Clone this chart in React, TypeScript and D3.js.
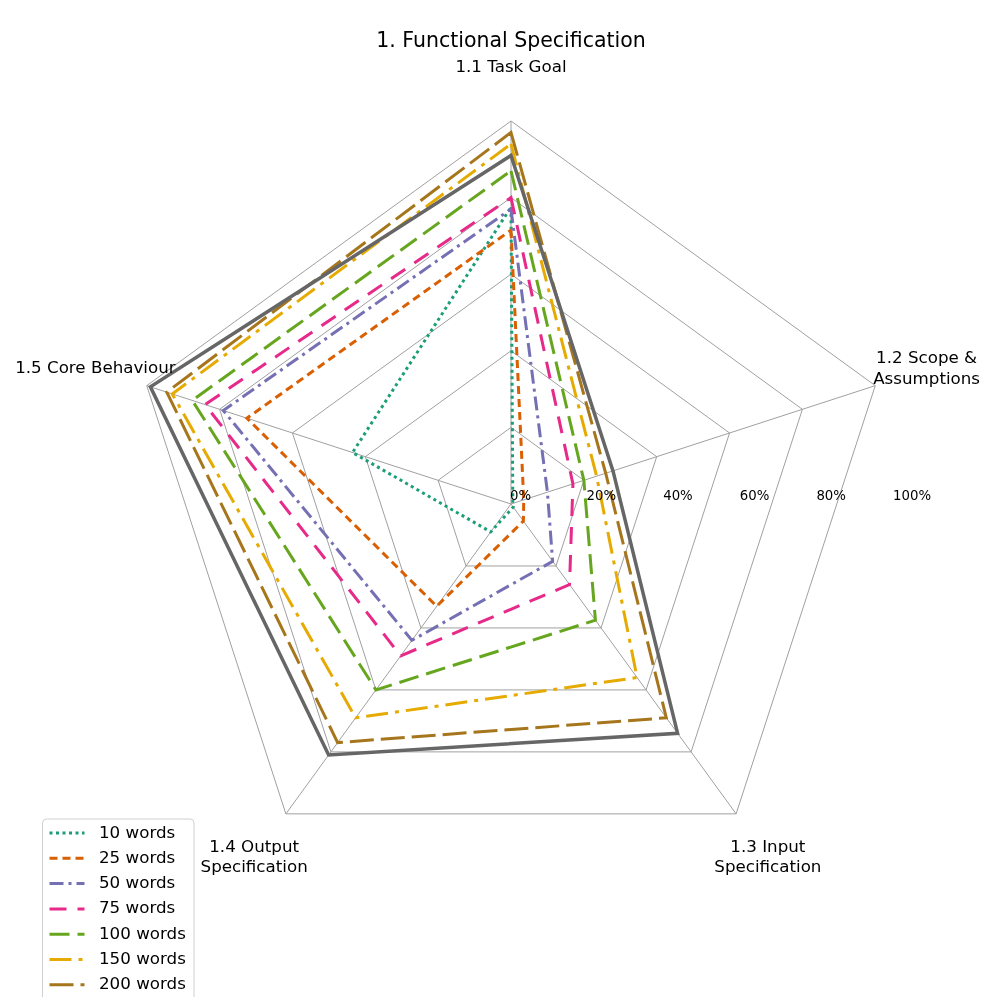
import React, { useRef, useEffect } from 'react';
import * as d3 from 'd3';

// axes, clockwise from the top
const axes = [
  ['1.1 Task Goal'],
  ['1.2 Scope &', 'Assumptions'],
  ['1.3 Input', 'Specification'],
  ['1.4 Output', 'Specification'],
  ['1.5 Core Behaviour'],
];

const seriesNames = ['10 words', '25 words', '50 words', '75 words', '100 words', '150 words', '200 words'];

// percentage per axis (Task Goal, Scope, Input, Output, Core)
const words10 = [77.5, 0.5, 1, 9, 43.5];
const words25 = [71.5, 3.5, 5.5, 33, 72.5];
const words50 = [77, 10, 18.5, 44, 79];
const words75 = [80, 17, 26, 49, 84];
const words100 = [87, 20, 37.5, 60, 87.5];
const words150 = [94, 23.5, 56, 69, 93];
const words200 = [97, 26, 69, 77, 94.5];
// grey series, its legend entry falls below the picture
const wordsMax = [91, 28, 74, 81, 99];

const gridTicks = [0, 20, 40, 60, 80, 100];

const colors = ['#1b9e77', '#d95f02', '#7570b3', '#e7298a', '#66a61e', '#e6ab02', '#a6761d', '#666666'];
const dashes = ['3,3.5', '8,5', '14,5,3,5', '17,11', '20,8', '22,7,4,7', '24,7', null];

export default function App() {
  const svgRef = useRef<SVGSVGElement>(null);

  useEffect(() => {
    const w = 997;
    const h = 997;
    const cx = 511;
    const cy = 504;
    const R = 383;
    const font = 'DejaVu Sans, sans-serif';

    const data = [words10, words25, words50, words75, words100, words150, words200, wordsMax];

    const svg = d3.select(svgRef.current).attr('width', w).attr('height', h);
    svg.selectAll('*').remove();

    const rScale = d3.scaleLinear().domain([0, 100]).range([0, R]);
    const angle = d3.scaleLinear().domain([0, axes.length]).range([0, 2 * Math.PI]);

    const g = svg.append('g').attr('transform', `translate(${cx},${cy})`);

    // grid pentagons
    const gridLine = d3.lineRadial<number>()
      .angle((d, i) => angle(i))
      .radius(d => rScale(d))
      .curve(d3.curveLinearClosed);

    g.selectAll('.grid')
      .data(gridTicks.slice(1))
      .join('path')
      .attr('d', t => gridLine(axes.map(() => t)))
      .attr('fill', 'none')
      .attr('stroke', '#a0a0a0')
      .attr('stroke-width', 1);

    // spokes
    g.selectAll('.spoke')
      .data(axes)
      .join('line')
      .attr('x1', 0)
      .attr('y1', 0)
      .attr('x2', (d, i) => rScale(100) * Math.sin(angle(i)))
      .attr('y2', (d, i) => -rScale(100) * Math.cos(angle(i)))
      .attr('stroke', '#a0a0a0')
      .attr('stroke-width', 1);

    // series
    const line = d3.lineRadial<number>()
      .angle((d, i) => angle(i))
      .radius(d => rScale(d))
      .curve(d3.curveLinearClosed);

    g.selectAll('.series')
      .data(data)
      .join('path')
      .attr('d', d => line(d))
      .attr('fill', 'none')
      .attr('stroke', (d, i) => colors[i])
      .attr('stroke-width', (d, i) => (i === 7 ? 3.5 : 3))
      .attr('stroke-dasharray', (d, i) => dashes[i])
      .attr('stroke-linejoin', 'miter');

    // radial tick labels
    g.selectAll('.rlabel')
      .data(gridTicks)
      .join('text')
      .attr('x', t => rScale(t) - 1)
      .attr('y', -8)
      .attr('dominant-baseline', 'middle')
      .attr('font-family', font)
      .attr('font-size', 13.3)
      .text(t => `${t}%`);

    // axis labels
    const labelR = 437;
    const labels = g.selectAll('.alabel')
      .data(axes)
      .join('text')
      .attr('font-family', font)
      .attr('font-size', 16.7)
      .attr('text-anchor', 'middle')
      .attr('transform', (d, i) =>
        `translate(${labelR * Math.sin(angle(i))},${-labelR * Math.cos(angle(i))})`);

    labels.selectAll('tspan')
      .data(d => d.map((txt, j) => ({ txt, j, n: d.length })))
      .join('tspan')
      .attr('x', 0)
      .attr('y', d => (d.j - (d.n - 1) / 2) * 20.5)
      .attr('dominant-baseline', 'middle')
      .text(d => d.txt);

    // title
    svg.append('text')
      .attr('x', cx)
      .attr('y', 41)
      .attr('text-anchor', 'middle')
      .attr('dominant-baseline', 'middle')
      .attr('font-family', font)
      .attr('font-size', 20.5)
      .text('1. Functional Specification');

    // legend (runs off the bottom edge, as in the source)
    const legend = svg.append('g').attr('transform', 'translate(42.5,819)');
    legend.append('rect')
      .attr('width', 151.5)
      .attr('height', 210)
      .attr('rx', 4)
      .attr('fill', 'white')
      .attr('fill-opacity', 0.8)
      .attr('stroke', '#d0d0d0')
      .attr('stroke-width', 1);

    const items = legend.selectAll('.item')
      .data(seriesNames)
      .join('g')
      .attr('transform', (d, i) => `translate(0,${14 + i * 25.3})`);

    items.append('line')
      .attr('x1', 7)
      .attr('x2', 42)
      .attr('stroke', (d, i) => colors[i])
      .attr('stroke-width', 3)
      .attr('stroke-dasharray', (d, i) => dashes[i]);

    items.append('text')
      .attr('x', 56.5)
      .attr('dominant-baseline', 'middle')
      .attr('font-family', font)
      .attr('font-size', 16.7)
      .text(d => d);
  }, []);

  return (
    <div style={{ position: 'fixed', left: 0, top: 0 }}>
      <svg ref={svgRef}></svg>
    </div>
  );
}
